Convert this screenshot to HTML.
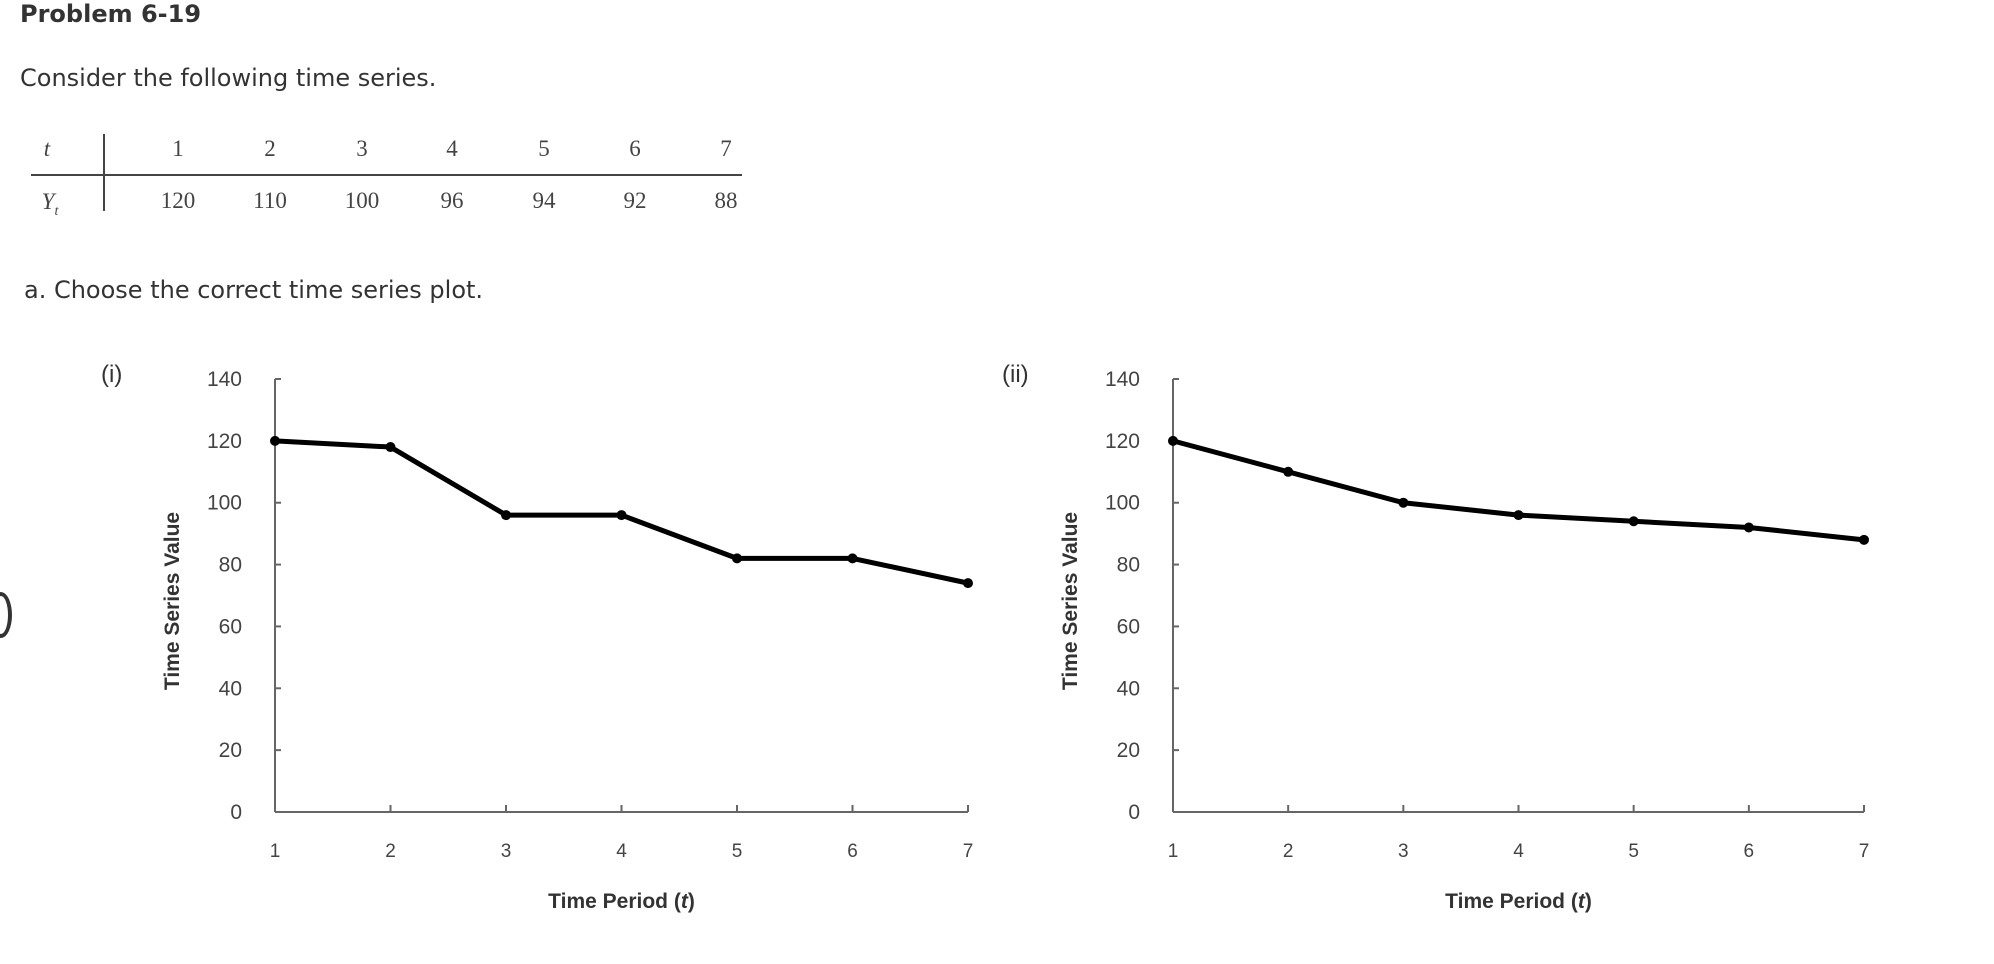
<!DOCTYPE html>
<html><head><meta charset="utf-8"><style>
body{margin:0;width:1994px;height:964px;background:#fff;position:relative;overflow:hidden;font-family:"DejaVu Sans","Liberation Sans",sans-serif;color:#333}
.a{position:absolute;white-space:nowrap}
</style></head><body>
<div class="a" style="left:20px;top:0px;font-size:24px;font-weight:bold">Problem 6-19</div>
<div class="a" style="left:20px;top:64px;font-size:24px">Consider the following time series.</div>
<svg class="a" style="left:0;top:120px" width="760" height="110">
<line x1="31" y1="55" x2="742" y2="55" stroke="#444" stroke-width="2"/>
<line x1="104" y1="14" x2="104" y2="91" stroke="#444" stroke-width="2"/>
<g font-family="Liberation Serif,serif" font-size="23" fill="#444" text-anchor="middle">
<text x="47" y="36" font-style="italic">t</text>
<text x="50" y="89" font-style="italic">Y<tspan font-size="14" dy="6">t</tspan></text>
<g id="trow1"></g><g id="trow2"></g></g>
</svg>
<div class="a" style="left:24px;top:276px;font-size:24px">a. Choose the correct time series plot.</div>
<div class="a" style="left:-10px;top:592px;width:14px;height:38px;border:4px solid #333;border-radius:50%"></div>
<svg class="a" id="chart" style="left:0;top:0" width="1994" height="964"></svg>
<script>
const tVals=[1,2,3,4,5,6,7];
const yVals=[120,110,100,96,94,92,88];
const seriesI=[120,118,96,96,82,82,74];
const seriesII=[120,110,100,96,94,92,88];
const yTicks=[0,20,40,60,80,100,120,140];
const NS="http://www.w3.org/2000/svg";
function mk(p,tag,attrs,txt){const e=document.createElementNS(NS,tag);for(const k in attrs)e.setAttribute(k,attrs[k]);if(txt!==undefined)e.textContent=txt;p.appendChild(e);return e;}
const colX=[178,270,362,452,544,635,726];
const r1=document.getElementById('trow1'),r2=document.getElementById('trow2');
tVals.forEach((v,i)=>{const e=mk(r1,'text',{x:colX[i],y:36},v);

});
yVals.forEach((v,i)=>{const e=mk(r2,'text',{x:colX[i],y:88},v);

});
const svg=document.getElementById('chart');
function chart(x0,x1,label,lx,data,name){
  const yTop=379,yBot=812;
  const X=t=>x0+(t-1)*(x1-x0)/6, Y=v=>yBot-v*(yBot-yTop)/140;
  const g=mk(svg,'g',{});
  
  
  const lb=mk(g,'text',{x:lx,y:382,'font-size':24,fill:'#333','font-family':'Liberation Sans,sans-serif'},label);
  
  
  mk(g,'line',{x1:x0,y1:yTop,x2:x0,y2:yBot,stroke:'#666','stroke-width':2});
  mk(g,'line',{x1:x0,y1:yBot,x2:x1,y2:yBot,stroke:'#666','stroke-width':2});
  yTicks.forEach(v=>{mk(g,'line',{x1:x0,y1:Y(v),x2:x0+6,y2:Y(v),stroke:'#666','stroke-width':2});
    const t=mk(g,'text',{x:x0-33,y:Y(v)+7,'text-anchor':'end','font-size':21,fill:'#444','font-family':'Liberation Sans,sans-serif'},v);
    
    });
  tVals.forEach(v=>{mk(g,'line',{x1:X(v),y1:yBot,x2:X(v),y2:yBot-7,stroke:'#666','stroke-width':2});
    const t=mk(g,'text',{x:X(v),y:857,'text-anchor':'middle','font-size':19,fill:'#444','font-family':'Liberation Sans,sans-serif'},v);
    
    });
  const xt=mk(g,'text',{x:(x0+x1)/2,y:908,'text-anchor':'middle','font-size':21,'font-weight':'bold',fill:'#333','font-family':'Liberation Sans,sans-serif'});
  xt.innerHTML='Time Period (<tspan font-style="italic">t</tspan>)';
  
  
  const yt=mk(g,'text',{x:0,y:0,transform:`translate(${x0-96},601) rotate(-90)`,'text-anchor':'middle','font-size':21,'font-weight':'bold',fill:'#333','font-family':'Liberation Sans,sans-serif'},'Time Series Value');
  
  
  const ln=mk(g,'polyline',{points:data.map((v,i)=>X(tVals[i])+','+Y(v)).join(' '),fill:'none',stroke:'#000','stroke-width':5,'stroke-linejoin':'round'});
  
  
  data.forEach((v,i)=>{const c=mk(g,'circle',{cx:X(tVals[i]),cy:Y(v),r:5,fill:'#000'});
    
    });
}
chart(275,968,'(i)',101,seriesI,'plot-i');
chart(1173,1864,'(ii)',1002,seriesII,'plot-ii');
</script>
</body></html>
